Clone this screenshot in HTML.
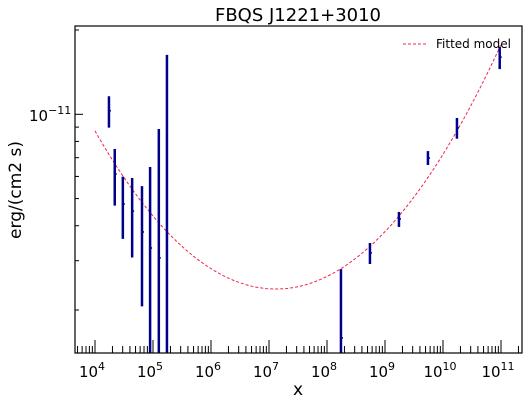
<!DOCTYPE html>
<html><head><meta charset="utf-8"><style>
body{margin:0;background:#fff}
svg{display:block;font-family:"DejaVu Sans","Liberation Sans",sans-serif}
</style></head><body>
<svg id="chart" width="528" height="404" viewBox="0 0 528 404">
<text x="298" y="21" text-anchor="middle" font-size="18">FBQS J1221+3010</text>
<text x="298" y="395" text-anchor="middle" font-size="17">x</text>
<text transform="translate(21,190) rotate(-90)" text-anchor="middle" font-size="17">erg/(cm2 s)</text>
<g id="ticks"></g>
<path id="model" fill="none" stroke="#f0254a" stroke-width="1" stroke-dasharray="3,2"/>
<g id="pts"></g>
<rect x="75" y="26" width="447" height="327" fill="none" stroke="#000" stroke-width="1.2"/>
<g>
<line x1="403" y1="44" x2="428" y2="44" stroke="#f0254a" stroke-width="1" stroke-dasharray="3,2"/>
<text x="436" y="48" font-size="12">Fitted model</text>
</g>
</svg>
<script>
const freqs=[1.74e4,2.19e4,3.02e4,4.37e4,6.46e4,8.91e4,1.26e5,1.74e5,1.74e8,5.5e8,1.74e9,5.5e9,1.74e10,9.5e10];
const fluxes=[1.03e-11,6.12e-12,4.78e-12,4.51e-12,3.80e-12,3.33e-12,3.07e-12,1.2e-12,1.59e-12,3.20e-12,4.23e-12,6.98e-12,8.94e-12,1.60e-11];
const errHi=[1.16e-11,7.52e-12,5.99e-12,5.92e-12,5.54e-12,6.48e-12,8.86e-12,1.63e-11,2.80e-12,3.47e-12,4.48e-12,7.39e-12,9.70e-12,1.74e-11];
const errLo=[8.96e-12,4.72e-12,3.59e-12,3.08e-12,2.06e-12,1.0e-12,1.0e-12,5e-13,5e-13,2.92e-12,3.96e-12,6.59e-12,8.18e-12,1.45e-11];
const xTickExps=[4,5,6,7,8,9,10,11];
const modelPeakLogX=7.12, modelMinLogY=-11.624, modelCurv=0.058;
const L=75,R=522,T=26,B=353;
function X(v){return 95+58*(Math.log10(v)-4);}
function Y(v){return 114.3-280*(Math.log10(v)+11);}
const NS="http://www.w3.org/2000/svg";
function mk(t,a,p){const e=document.createElementNS(NS,t);for(const k in a)e.setAttribute(k,a[k]);p.appendChild(e);return e;}
const tk=document.getElementById('ticks');
for(let e=3;e<=11;e++){for(let m=1;m<10;m++){const x=X(m*Math.pow(10,e));if(x<L||x>R)continue;
 const ln=mk('line',{x1:x,x2:x,y1:B,y2:B-(m==1?13:7),stroke:'#000','stroke-width':1},tk);
 
 }}
xTickExps.forEach(e=>{const t=mk('text',{x:X(Math.pow(10,e))-3,y:377,'text-anchor':'middle','font-size':15},tk);
 
 
 t.innerHTML='10<tspan dy="-7" font-size="11">'+e+'</tspan>';});
for(let e=-12;e<=-11;e++){for(let m=1;m<10;m++){const y=Y(m*Math.pow(10,e));if(y<T||y>B)continue;
 const ln=mk('line',{x1:L,x2:L+(m==1?8:4),y1:y,y2:y,stroke:'#000','stroke-width':1},tk);
 
 }}
const yl=mk('text',{x:29,y:121,'font-size':15},tk);


yl.innerHTML='10<tspan dy="-7" font-size="11">−11</tspan>';
let d='';for(let i=0;i<=140;i++){const lx=4+7*i/140;const ly=modelMinLogY+modelCurv*(lx-modelPeakLogX)**2;
 const x=X(Math.pow(10,lx)),y=Y(Math.pow(10,ly));d+=(i?'L':'M')+x.toFixed(1)+','+y.toFixed(1);}
document.getElementById('model').setAttribute('d',d);
const pg=document.getElementById('pts');
freqs.forEach((f,i)=>{const x=X(f);
 const y1=Math.max(T,Y(errHi[i])),y2=Math.min(B,Y(errLo[i]));
 const b=mk('line',{x1:x,x2:x,y1:y1,y2:y2,stroke:'#00008b','stroke-width':2.5},pg);
 
 
 const yc=Y(fluxes[i]);if(yc<B){const c=mk('rect',{x:x,y:yc-0.8,width:2,height:1.6,fill:'#00008b'},pg);
 
 }});
</script>
</body></html>
